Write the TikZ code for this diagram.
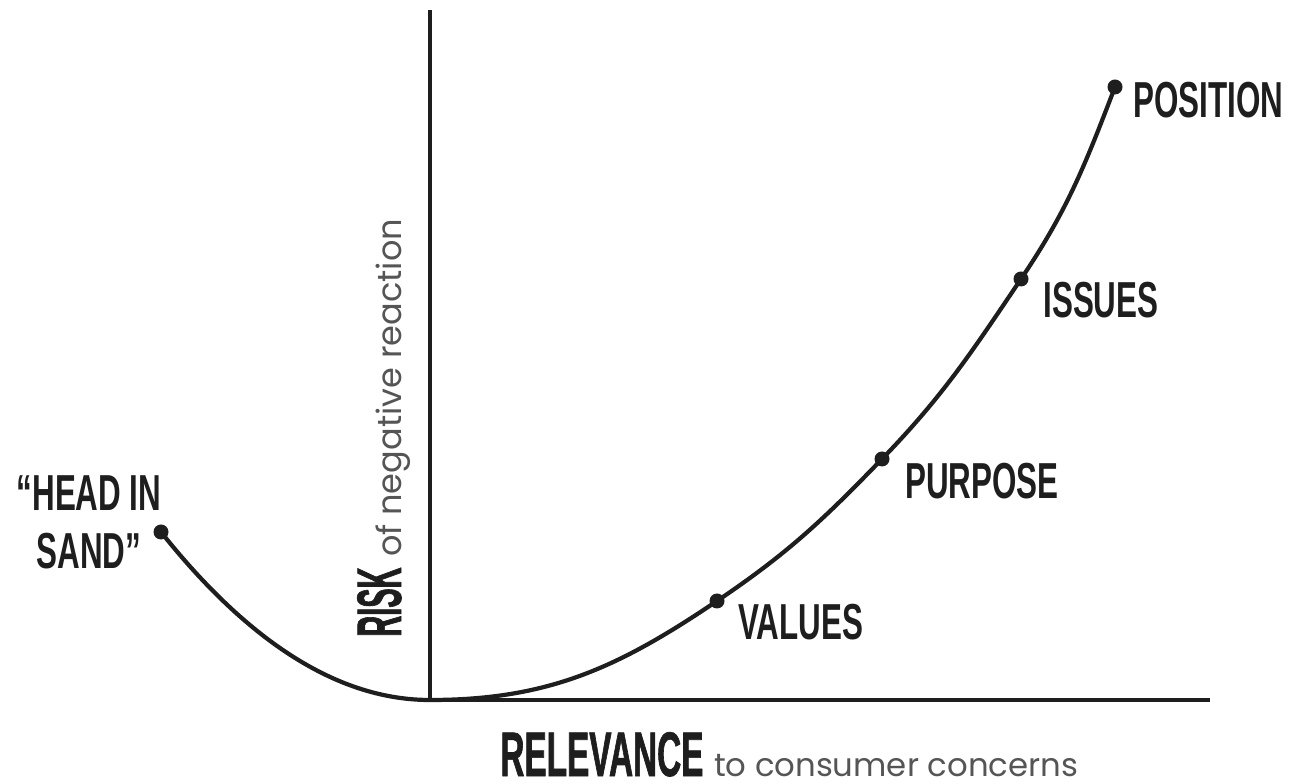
\documentclass[tikz,border=0pt]{standalone}
\usepackage{fontspec}
\newfontfamily\labelfont[FakeStretch=0.62]{Liberation Sans}
\newfontfamily\headfont[FakeStretch=0.53,FakeBold=1]{Liberation Sans}
\newfontfamily\riskfont[FakeStretch=0.46,FakeBold=1]{Liberation Sans}
\newfontfamily\plainfont{Poppins}
\definecolor{ink}{HTML}{1E1E1E}
\definecolor{softgray}{HTML}{555555}
\begin{document}
\begin{tikzpicture}[x=0.02cm,y=0.02cm]
		\tikzset{stage/.style = {inner sep=0pt,anchor=base west,text=ink,font=\labelfont\bfseries\fontsize{28.8}{33}\selectfont}}
		\tikzset{axis/.style = {draw=ink,line width=2pt}}
		\tikzset{curve/.style = {draw=ink,line width=2.4pt}}
		\tikzset{heading/.style = {inner sep=0pt,text depth=0pt,anchor=base west,text=ink,font=\headfont\bfseries\fontsize{35.8}{40}\selectfont}}
		\useasboundingbox (0,0) rectangle (1291,784);
		\coordinate (o) at (430,84);
		\coordinate (top) at (430,774);
		\coordinate (end) at (1210,84);
		\coordinate (sand) at (161,252);
		\coordinate (values) at (717,183);
		\coordinate (purpose) at (882,325);
		\coordinate (issues) at (1021,505);
		\coordinate (position) at (1115,697);
		\draw[axis] (top) -- (o) -- (end);
		\draw[curve] (sand) .. controls (250,140) and (340,84) .. (o);
		\draw[curve] (o) to[out=0,in=214] (values) to[out=34,in=226] (purpose)
			to[out=46,in=236] (issues) to[out=56,in=249] (position);
		\foreach \p in {sand,values,purpose,issues,position}
			\fill[ink] (\p) circle (7.5);
		\node[stage] (valuesl) at (738,144) {VALUES};
		\node[stage] (purposel) at (905,285) {PURPOSE};
		\node[stage] (issuesl) at (1043,466) {ISSUES};
		\node[stage] (positionl) at (1133,666) {POSITION};
		\node[stage,anchor=center,align=center] (sandl) at (89,262) {“HEAD IN\\SAND”};
		\node[heading,font=\riskfont\bfseries\fontsize{35.8}{40}\selectfont,rotate=90] (risk) at (401,147) {RISK\hspace{6pt}{\plainfont\mdseries\color{softgray}\fontsize{19.1}{22}\selectfont of negative reaction}};
		\node[heading] (relevance) at (500,8) {RELEVANCE\hspace{6pt}{\plainfont\mdseries\color{softgray}\fontsize{18.4}{22}\selectfont to consumer concerns}};
	\end{tikzpicture}
\end{document}
